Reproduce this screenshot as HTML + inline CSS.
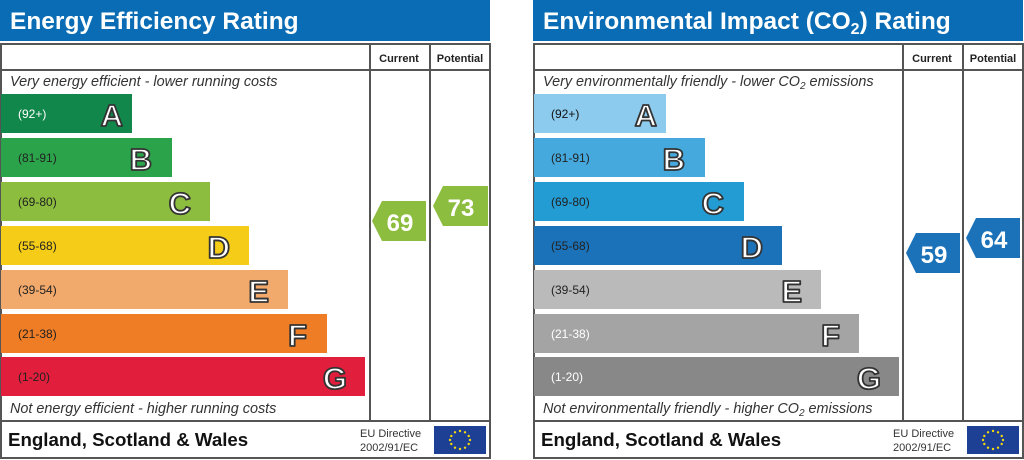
<!DOCTYPE html>
<html><head><style>body{margin:0;background:#fff}svg{display:block}</style></head><body>
<svg width="1024" height="460" xmlns="http://www.w3.org/2000/svg" font-family="Liberation Sans, Arial, sans-serif">
<defs>
<g id="eu"><rect x="0" y="0" width="52" height="28" fill="#1d3f94"/>
<g fill="#f5d90a"><circle cx="26" cy="5" r="1.2"/><circle cx="31" cy="6.3" r="1.2"/><circle cx="34.7" cy="10" r="1.2"/><circle cx="36" cy="14" r="1.2"/><circle cx="34.7" cy="18" r="1.2"/><circle cx="31" cy="21.7" r="1.2"/><circle cx="26" cy="23" r="1.2"/><circle cx="21" cy="21.7" r="1.2"/><circle cx="17.3" cy="18" r="1.2"/><circle cx="16" cy="14" r="1.2"/><circle cx="17.3" cy="10" r="1.2"/><circle cx="21" cy="6.3" r="1.2"/></g></g>
</defs>
<!-- LEFT -->
<g>
<rect x="0" y="0" width="490" height="41" fill="#0a6cb4"/>
<text x="10" y="29" font-size="24.5" font-weight="bold" fill="#fff">Energy Efficiency Rating</text>
<rect x="1" y="44" width="489" height="414" fill="none" stroke="#555" stroke-width="2"/>
<line x1="1" y1="70" x2="490" y2="70" stroke="#555" stroke-width="2"/>
<line x1="1" y1="421" x2="490" y2="421" stroke="#555" stroke-width="2"/>
<line x1="370" y1="44" x2="370" y2="421" stroke="#555" stroke-width="2"/>
<line x1="430" y1="44" x2="430" y2="421" stroke="#555" stroke-width="2"/>
<text x="399" y="62" font-size="11" font-weight="bold" text-anchor="middle" fill="#222">Current</text>
<text x="460" y="62" font-size="11" font-weight="bold" text-anchor="middle" fill="#222">Potential</text>
<text x="10" y="86" font-size="14.4" font-style="italic" fill="#333">Very energy efficient - lower running costs</text>
<text x="10" y="413" font-size="14.4" font-style="italic" fill="#333">Not energy efficient - higher running costs</text>
<g font-size="12">
<rect x="1" y="94" width="131" height="39" fill="#12874b"/><text x="18" y="118" fill="#fff">(92+)</text>
<rect x="1" y="138" width="171" height="39" fill="#2ba34a"/><text x="18" y="162" fill="#222">(81-91)</text>
<rect x="1" y="182" width="209" height="39" fill="#8dbd3f"/><text x="18" y="206" fill="#222">(69-80)</text>
<rect x="1" y="226" width="248" height="39" fill="#f5cc17"/><text x="18" y="250" fill="#222">(55-68)</text>
<rect x="1" y="270" width="287" height="39" fill="#f1a96c"/><text x="18" y="294" fill="#222">(39-54)</text>
<rect x="1" y="314" width="326" height="39" fill="#ee7d25"/><text x="18" y="338" fill="#222">(21-38)</text>
<rect x="1" y="357" width="364" height="39" fill="#e11f3c"/><text x="18" y="381" fill="#222">(1-20)</text>
</g>
<g font-size="31" font-weight="bold" fill="#fff" stroke="#333" stroke-width="1.8" stroke-linejoin="round" text-anchor="end">
<text x="123" y="126">A</text><text x="152" y="170">B</text><text x="191" y="214">C</text><text x="230" y="258">D</text><text x="269" y="302">E</text><text x="307" y="346">F</text><text x="347" y="389">G</text>
</g>
<polygon points="372,221 382,201 426,201 426,241 382,241" fill="#8dbd3f"/>
<text x="400" y="231" font-size="24" font-weight="bold" fill="#fff" text-anchor="middle">69</text>
<polygon points="433,206 443,186 488,186 488,226 443,226" fill="#8dbd3f"/>
<text x="461" y="216" font-size="24" font-weight="bold" fill="#fff" text-anchor="middle">73</text>
<text x="8" y="446" font-size="18.7" font-weight="bold" fill="#111">England, Scotland &amp; Wales</text>
<text x="360" y="437" font-size="11" fill="#333">EU Directive</text>
<text x="360" y="451" font-size="11" fill="#333">2002/91/EC</text>
<use href="#eu" x="434" y="426"/>
</g>
<!-- RIGHT -->
<g transform="translate(533,0)">
<rect x="0" y="0" width="490" height="41" fill="#0a6cb4"/>
<text x="10" y="29" font-size="24.5" font-weight="bold" fill="#fff">Environmental Impact (CO<tspan font-size="16" dy="5">2</tspan><tspan dy="-5">) Rating</tspan></text>
<rect x="1" y="44" width="489" height="414" fill="none" stroke="#555" stroke-width="2"/>
<line x1="1" y1="70" x2="490" y2="70" stroke="#555" stroke-width="2"/>
<line x1="1" y1="421" x2="490" y2="421" stroke="#555" stroke-width="2"/>
<line x1="370" y1="44" x2="370" y2="421" stroke="#555" stroke-width="2"/>
<line x1="430" y1="44" x2="430" y2="421" stroke="#555" stroke-width="2"/>
<text x="399" y="62" font-size="11" font-weight="bold" text-anchor="middle" fill="#222">Current</text>
<text x="460" y="62" font-size="11" font-weight="bold" text-anchor="middle" fill="#222">Potential</text>
<text x="10" y="86" font-size="14.4" font-style="italic" fill="#333">Very environmentally friendly - lower CO<tspan font-size="10" dy="3">2</tspan><tspan dy="-3"> emissions</tspan></text>
<text x="10" y="413" font-size="14.4" font-style="italic" fill="#333">Not environmentally friendly - higher CO<tspan font-size="10" dy="3">2</tspan><tspan dy="-3"> emissions</tspan></text>
<g font-size="12">
<rect x="1" y="94" width="132" height="39" fill="#8ccbee"/><text x="18" y="118" fill="#111">(92+)</text>
<rect x="1" y="138" width="171" height="39" fill="#45a9de"/><text x="18" y="162" fill="#222">(81-91)</text>
<rect x="1" y="182" width="210" height="39" fill="#239bd3"/><text x="18" y="206" fill="#222">(69-80)</text>
<rect x="1" y="226" width="248" height="39" fill="#1c72b8"/><text x="18" y="250" fill="#222">(55-68)</text>
<rect x="1" y="270" width="287" height="39" fill="#bababa"/><text x="18" y="294" fill="#222">(39-54)</text>
<rect x="1" y="314" width="325" height="39" fill="#a4a4a4"/><text x="18" y="338" fill="#fff">(21-38)</text>
<rect x="1" y="357" width="365" height="39" fill="#888"/><text x="18" y="381" fill="#fff">(1-20)</text>
</g>
<g font-size="31" font-weight="bold" fill="#fff" stroke="#333" stroke-width="1.8" stroke-linejoin="round" text-anchor="end">
<text x="124" y="126">A</text><text x="152" y="170">B</text><text x="191" y="214">C</text><text x="230" y="258">D</text><text x="269" y="302">E</text><text x="307" y="346">F</text><text x="348" y="389">G</text>
</g>
<polygon points="373,253 383,233 427,233 427,273 383,273" fill="#1c72b8"/>
<text x="401" y="263" font-size="24" font-weight="bold" fill="#fff" text-anchor="middle">59</text>
<polygon points="433,238 443,218 487,218 487,258 443,258" fill="#1c72b8"/>
<text x="461" y="248" font-size="24" font-weight="bold" fill="#fff" text-anchor="middle">64</text>
<text x="8" y="446" font-size="18.7" font-weight="bold" fill="#111">England, Scotland &amp; Wales</text>
<text x="360" y="437" font-size="11" fill="#333">EU Directive</text>
<text x="360" y="451" font-size="11" fill="#333">2002/91/EC</text>
<use href="#eu" x="434" y="426"/>
</g>
</svg>
</body></html>
